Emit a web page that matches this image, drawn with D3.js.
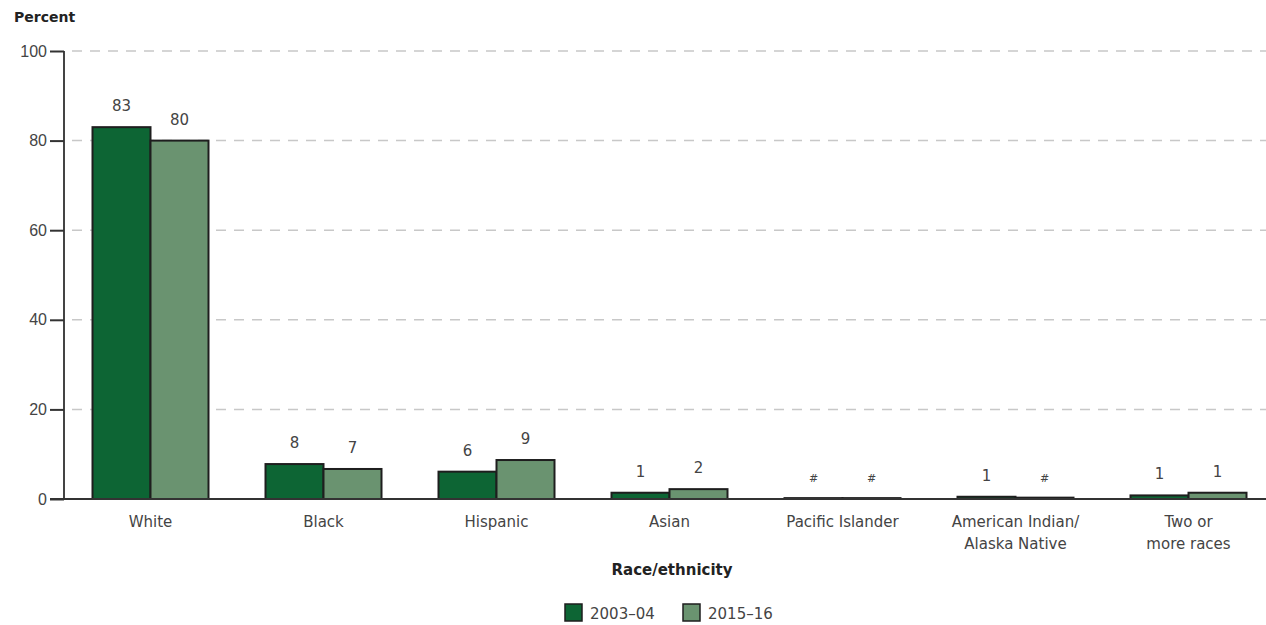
<!DOCTYPE html>
<html>
<head>
<meta charset="utf-8">
<script src="https://cdn.jsdelivr.net/npm/d3@7"></script>
<style>
  html, body { margin: 0; padding: 0; background: #fff; }
  svg { display: block; font-family: "DejaVu Sans", "Noto Sans", sans-serif; }
</style>
</head>
<body>
<svg id="chart" width="1266" height="625"></svg>
<script>
// Percentage distribution of students by race/ethnicity
const categories = [
  ["White"], ["Black"], ["Hispanic"], ["Asian"], ["Pacific Islander"],
  ["American Indian/", "Alaska Native"], ["Two or", "more races"]
];
const seriesNames = ["2003–04", "2015–16"];
const values2003 = [83, 7.8, 6.1, 1.4, 0.2, 0.5, 0.8];
const values2015 = [80, 6.7, 8.7, 2.2, 0.2, 0.3, 1.4];
const yTicks = [0, 20, 40, 60, 80, 100];
const colors = ["#0d6534", "#6a9370"];

const svg = d3.select("#chart");
const margin = { left: 64, top: 51, bottom: 126 };
const plotBottom = 499;
const plotRight = 1275;

const y = d3.scaleLinear().domain([0, 100]).range([plotBottom, margin.top]);
const x0 = d3.scaleBand().domain(d3.range(categories.length))
  .range([margin.left, plotRight]).padding(0);
const groupW = 116;
const x1 = d3.scaleBand().domain([0, 1])
  .range([(x0.step() - groupW) / 2, (x0.step() + groupW) / 2]).padding(0);

// dashed gridlines
svg.append("g").selectAll("line")
  .data(yTicks.filter(d => d > 0))
  .join("line")
  .attr("x1", margin.left + 8).attr("x2", 1266)
  .attr("y1", d => y(d)).attr("y2", d => y(d))
  .attr("stroke", "#c8c8c8").attr("stroke-width", 1.5)
  .attr("stroke-dasharray", "10,8");

// y axis
const yAxis = svg.append("g")
  .attr("transform", `translate(${margin.left},0)`)
  .call(d3.axisLeft(y).tickValues(yTicks).tickSize(14).tickPadding(3));
yAxis.select(".domain").attr("stroke", "#444").attr("stroke-width", 2)
  .attr("d", `M0,${y(100)}V${plotBottom}`);
yAxis.selectAll(".tick line").attr("stroke", "#333").attr("stroke-width", 2)
  .attr("x1", -14).attr("x2", 0);
yAxis.selectAll(".tick text").attr("fill", "#444").style("font-size", "16px");

// bars
const rows = categories.map((c, i) => ({ i, vals: [values2003[i], values2015[i]] }));
const groups = svg.append("g").selectAll("g")
  .data(rows).join("g")
  .attr("transform", d => `translate(${x0(d.i)},0)`);

groups.selectAll("rect")
  .data(d => d.vals.map((v, s) => ({ v, s })))
  .join("rect")
  .attr("x", d => x1(d.s))
  .attr("width", x1.bandwidth())
  .attr("y", d => y(d.v))
  .attr("height", d => plotBottom - y(d.v))
  .attr("fill", d => colors[d.s])
  .attr("stroke", "#1e1e1e").attr("stroke-width", 2);

const fmt = v => Math.round(v) < 1 ? "#" : String(Math.round(v));
groups.selectAll("text.val")
  .data(d => d.vals.map((v, s) => ({ v, s })))
  .join("text").attr("class", "val")
  .attr("x", d => x1(d.s) + x1.bandwidth() / 2)
  .attr("y", d => y(d.v) - 16)
  .attr("text-anchor", "middle")
  .attr("fill", "#444")
  .style("font-size", d => fmt(d.v) === "#" ? "11px" : "15px")
  .text(d => fmt(d.v));

// baseline
svg.append("line")
  .attr("x1", margin.left - 14).attr("x2", 1266)
  .attr("y1", plotBottom).attr("y2", plotBottom)
  .attr("stroke", "#333").attr("stroke-width", 2);

// category labels
const catLabels = svg.append("g").selectAll("text")
  .data(categories).join("text")
  .attr("x", (d, i) => x0(i) + x0.step() / 2)
  .attr("y", 527)
  .attr("text-anchor", "middle")
  .attr("fill", "#444")
  .style("font-size", "15px");
catLabels.selectAll("tspan")
  .data(d => d).join("tspan")
  .attr("x", function () { return this.parentNode.getAttribute("x"); })
  .attr("dy", (d, i) => i === 0 ? 0 : 22)
  .text(d => d);

// titles
svg.append("text").attr("x", 14).attr("y", 22)
  .attr("fill", "#222").style("font-size", "14px").style("font-weight", "bold")
  .text("Percent");
svg.append("text").attr("x", 672).attr("y", 575)
  .attr("text-anchor", "middle")
  .attr("fill", "#222").style("font-size", "15px").style("font-weight", "bold")
  .text("Race/ethnicity");

// legend
const legend = svg.append("g").selectAll("g")
  .data(seriesNames).join("g")
  .attr("transform", (d, i) => `translate(${565 + i * 118},604)`);
legend.append("rect")
  .attr("width", 17).attr("height", 17)
  .attr("fill", (d, i) => colors[i])
  .attr("stroke", "#1e1e1e").attr("stroke-width", 1.5);
legend.append("text")
  .attr("x", 25).attr("y", 15)
  .attr("fill", "#444").style("font-size", "15px")
  .text(d => d);
</script>
</body>
</html>
